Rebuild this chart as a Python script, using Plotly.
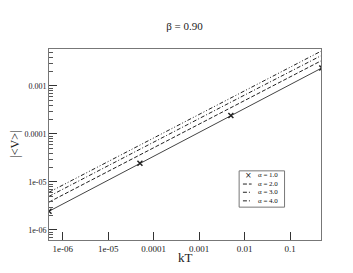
import plotly.graph_objects as go
import numpy as np

kT = [5e-7, 5e-5, 5e-3, 0.5]
V_a1 = [2.45e-6, 2.45e-5, 2.42e-4, 2.37e-3]
V_a2 = [3.8e-6, 3.7e-5, 3.55e-4, 3.4e-3]
V_a3 = [5.0e-6, 4.85e-5, 4.6e-4, 4.35e-3]
V_a4 = [6.1e-6, 5.9e-5, 5.7e-4, 5.4e-3]
labels = ["α = 1.0", "α = 2.0", "α = 3.0", "α = 4.0"]

x_ticks = [1e-6, 1e-5, 1e-4, 1e-3, 1e-2, 1e-1]
x_ticktext = ["1e-06", "1e-05", "0.0001", "0.001", "0.01", "0.1"]
y_ticks = [1e-6, 1e-5, 1e-4, 1e-3]
y_ticktext = ["1e-06", "1e-05", "0.0001", "0.001"]
y_minor = [m * 10.0 ** e for e in range(-7, -1) for m in range(2, 10)]

FONT = "Liberation Serif, Times New Roman, serif"
LC = "#222222"
dashes = [None, "4px,2px", "4px,2px,1px,2px", "4px,2px,1px,2px,1px,2px"]

fig = go.Figure()
fig.add_trace(go.Scatter(x=kT, y=V_a1, mode="lines+markers", name=labels[0],
                         line=dict(color="#444444", width=1),
                         marker=dict(symbol="x-thin", size=5, line=dict(color=LC, width=1.5))))
for vals, lab, d in zip([V_a2, V_a3, V_a4], labels[1:], dashes[1:]):
    fig.add_trace(go.Scatter(x=kT, y=vals, mode="lines", name=lab,
                             line=dict(color=LC, width=1, dash=d)))

# manual compact legend (paper coordinates)
shapes = [dict(type="rect", xref="paper", yref="paper", x0=0.699, x1=0.866, y0=0.172, y1=0.362,
               line=dict(color="#777777", width=1), fillcolor="white", layer="above")]
annotations = []
row_y = [0.338, 0.293, 0.250, 0.205]
sx0, sx1, tx = 0.713, 0.745, 0.762
for i, (lab, ry) in enumerate(zip(labels, row_y)):
    if i == 0:
        annotations.append(dict(x=(sx0 + sx1) / 2 + 0.004, y=ry, xref="paper", yref="paper",
                                text="×", showarrow=False, font=dict(family="DejaVu Sans", size=8, color=LC),
                                xanchor="center", yanchor="middle"))
    else:
        shapes.append(dict(type="line", xref="paper", yref="paper", x0=sx0, x1=sx1, y0=ry, y1=ry,
                           line=dict(color=LC, width=1, dash=dashes[i]), layer="above"))
    annotations.append(dict(x=tx, y=ry, xref="paper", yref="paper", text=lab, showarrow=False,
                            font=dict(family=FONT, size=7, color="#111111"), xanchor="left", yanchor="middle"))

# axis titles
annotations.append(dict(x=0.5, y=-0.094, xref="paper", yref="paper", text="kT", showarrow=False,
                        font=dict(family=FONT, size=13, color="#222222"), xanchor="center", yanchor="middle"))
annotations.append(dict(x=-0.128, y=0.5, xref="paper", yref="paper", text="|<V>|", showarrow=False,
                        textangle=-90, font=dict(family=FONT, size=12, color="#222222"),
                        xanchor="center", yanchor="middle"))

fig.update_layout(
    width=353, height=273,
    margin=dict(l=41, r=40, t=41, b=41, autoexpand=False),
    paper_bgcolor="white", plot_bgcolor="white",
    font=dict(family=FONT, color="#222222", size=9),
    title=dict(text="β = 0.90", x=0.5, xanchor="center", y=0.935, yanchor="middle",
               font=dict(family=FONT, size=11, color="#222222")),
    showlegend=False,
    shapes=shapes, annotations=annotations,
)
fig.update_xaxes(
    type="log", range=[np.log10(5e-7), np.log10(0.48)],
    tickvals=x_ticks, ticktext=x_ticktext, automargin=False,
    ticks="inside", ticklen=8, tickwidth=1, tickcolor="#333333",
    showline=True, linecolor="#777777", linewidth=1, mirror=True,
    showgrid=False, zeroline=False,
    tickfont=dict(family=FONT, size=9),
)
fig.update_yaxes(
    type="log", range=[-6.21, -2.23],
    tickvals=y_ticks, ticktext=y_ticktext, automargin=False,
    ticks="inside", ticklen=8, tickwidth=1, tickcolor="#333333",
    minor=dict(tickvals=y_minor, ticks="inside", ticklen=4, tickcolor="#555555", showgrid=False),
    showline=True, linecolor="#777777", linewidth=1, mirror=True,
    showgrid=False, zeroline=False,
    tickfont=dict(family=FONT, size=8),
)

fig.write_html("out.html")
